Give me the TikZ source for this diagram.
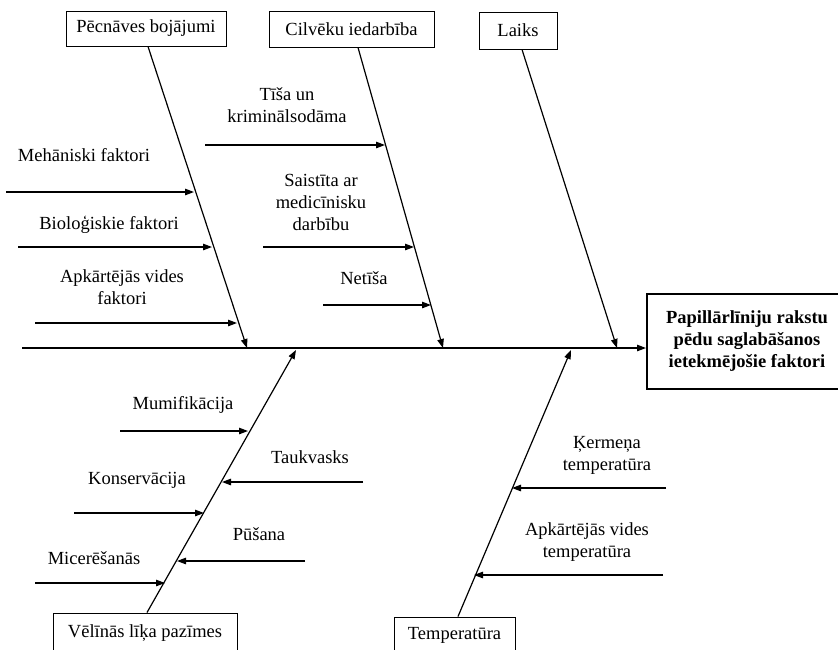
\documentclass[tikz,border=0pt]{standalone}
\usepackage{fontspec}
\setmainfont{Liberation Serif}
\usetikzlibrary{arrows.meta}
\begin{document}
\begin{tikzpicture}[x=1pt,y=-1pt,
  arr/.style={line width=1.2pt,-{Triangle[length=9pt,width=6.5pt]}},
  box/.style={draw,line width=1pt,inner sep=0pt,font=\fontsize{18.5}{22}\selectfont},
  lbl/.style={font=\fontsize{18.5}{22}\selectfont,align=center,inner sep=0pt}]
\useasboundingbox (0,0) rectangle (838,649);
\clip (0,0) rectangle (838,649);
% cause boxes
\node[box,minimum width=160pt,minimum height=35pt] (pb) at (146,28.5) {Pēcnāves bojājumi};
\node[box,minimum width=165pt,minimum height=36pt] (ci) at (351.5,29) {Cilvēku iedarbība};
\node[box,minimum width=78pt,minimum height=37pt] (la) at (518,30.5) {Laiks};
\node[box,minimum width=184pt,minimum height=40pt] (vl) at (145,633) {Vēlīnās līķa pazīmes};
\node[box,minimum width=121pt,minimum height=36pt] (te) at (454.5,635) {Temperatūra};
% effect box
\node[box,line width=2pt,minimum width=200pt,minimum height=95pt,align=center,
  font=\fontsize{18.5}{22}\selectfont\bfseries] (eff) at (747,341.5)
  {Papillārlīniju rakstu\\pēdu saglabāšanos\\ietekmējošie faktori};
% spine
\coordinate (s0) at (22,348);
\draw[arr] (s0) -- (s0 -| eff.west);
% bone ends on spine
\coordinate (p1) at (247,348);
\coordinate (p2) at (443,348);
\coordinate (p3) at (617,348);
\coordinate (q1) at (296,350);
\coordinate (q2) at (571,350);
\draw[arr] ([xshift=2pt]pb.south) -- (p1);
\draw[arr] ([xshift=6.5pt]ci.south) -- (p2);
\draw[arr] ([xshift=4pt]la.south) -- (p3);
\draw[arr] ([xshift=2pt]vl.north) -- (q1);
\draw[arr] ([xshift=3.5pt]te.north) -- (q2);
% labels
\node[lbl] (m1) at (84,155) {Mehāniski faktori};
\node[lbl] (m2) at (109,225) {Bioloģiskie faktori};
\node[lbl] (m3) at (122,287.5) {Apkārtējās vides\\faktori};
\node[lbl] (c1) at (287,105.5) {Tīša un\\kriminālsodāma};
\node[lbl] (c2) at (321,202) {Saistīta ar\\medicīnisku\\darbību};
\node[lbl] (c3) at (364,278) {Netīša};
\node[lbl] (v1) at (183,405) {Mumifikācija};
\node[lbl] (v2) at (310,457) {Taukvasks};
\node[lbl] (v3) at (137,480) {Konservācija};
\node[lbl] (v4) at (259,534) {Pūšana};
\node[lbl] (v5) at (94,558) {Micerēšanās};
\node[lbl] (t1) at (607,455.5) {Ķermeņa\\temperatūra};
\node[lbl] (t2) at (587,542) {Apkārtējās vides\\temperatūra};
% sub-cause arrows
\coordinate (a1) at (6,192);   \coordinate (b1) at (194,192);
\coordinate (a2) at (18,247);  \coordinate (b2) at (212,247);
\coordinate (a3) at (35,323);  \coordinate (b3) at (237,323);
\coordinate (a4) at (205,145); \coordinate (b4) at (385,145);
\coordinate (a5) at (263,247); \coordinate (b5) at (414,247);
\coordinate (a6) at (323,305); \coordinate (b6) at (431,305);
\coordinate (a7) at (120,431); \coordinate (b7) at (248,431);
\coordinate (a8) at (363,482); \coordinate (b8) at (222,482);
\coordinate (a9) at (74,513);  \coordinate (b9) at (204,513);
\coordinate (a10) at (305,561); \coordinate (b10) at (177,561);
\coordinate (a11) at (35,583); \coordinate (b11) at (165,583);
\coordinate (a12) at (666,488); \coordinate (b12) at (512,488);
\coordinate (a13) at (663,575); \coordinate (b13) at (474,575);
\foreach \i in {1,...,13} {\draw[arr] (a\i) -- (b\i);}
\end{tikzpicture}
\end{document}
